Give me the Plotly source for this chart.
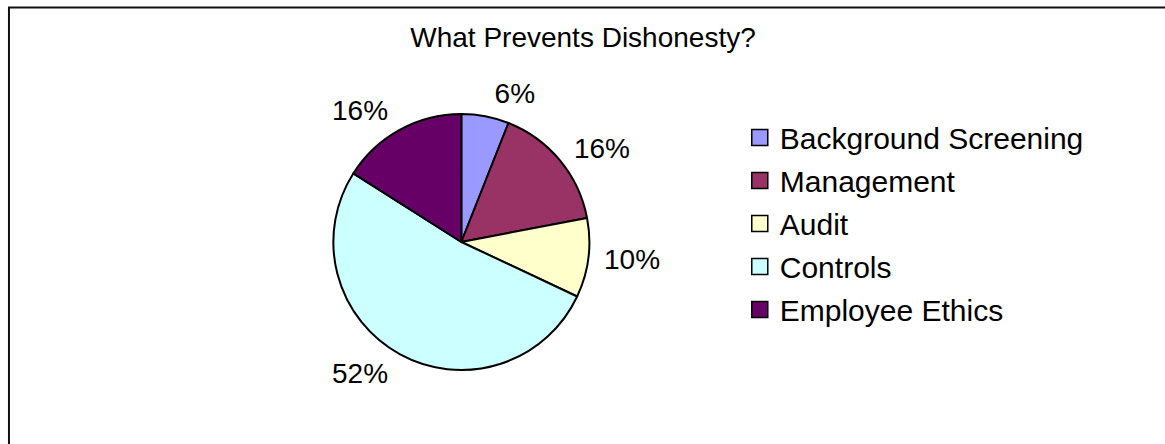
import plotly.graph_objects as go

categories = ["Background Screening", "Management", "Audit", "Controls", "Employee Ethics"]
values = [6, 16, 10, 52, 16]
colors = ["#9999FF", "#993366", "#FFFFCC", "#CCFFFF", "#660066"]
title_text = "What Prevents Dishonesty?"

FONT = "Liberation Sans, Arial, sans-serif"

fig = go.Figure()
# the pie slices
fig.add_trace(go.Pie(
    labels=categories,
    values=values,
    sort=False,
    direction="clockwise",
    rotation=0,
    marker=dict(colors=colors, line=dict(color="#000000", width=2)),
    textinfo="none",
    domain=dict(x=[0.196, 0.596], y=[0.1667, 0.7432]),
    hoverinfo="label+percent",
    showlegend=False,
))
# same data, slightly larger transparent pie carrying the outside percentage labels
fig.add_trace(go.Pie(
    labels=categories,
    values=values,
    sort=False,
    direction="clockwise",
    rotation=0,
    marker=dict(colors=["rgba(0,0,0,0)"] * len(values), line=dict(width=0)),
    texttemplate="%{percent:.0%}",
    textposition="outside",
    textfont=dict(family=FONT, size=28, color="#000000"),
    domain=dict(x=[0.196, 0.596], y=[0.1487, 0.7613]),
    hoverinfo="skip",
    showlegend=False,
))
# legend entries with larger square swatches
for name, col in zip(categories, colors):
    fig.add_trace(go.Scatter(
        x=[None], y=[None], mode="markers", name=name, legendgroup=name,
        marker=dict(symbol="square", size=18, color=col, line=dict(color="#000000", width=1.5)),
        showlegend=True,
    ))

fig.update_layout(
    width=1165,
    height=444,
    margin=dict(l=0, r=0, t=0, b=0),
    paper_bgcolor="#FFFFFF",
    plot_bgcolor="rgba(0,0,0,0)",
    font=dict(family=FONT, color="#000000"),
    xaxis=dict(visible=False),
    yaxis=dict(visible=False),
    title=dict(text=title_text, x=583/1165, xanchor="center", y=1 - 37/444, yanchor="middle",
               font=dict(size=28, color="#000000")),
    showlegend=True,
    legend=dict(x=0.635, xanchor="left", y=0.749, yanchor="top",
                font=dict(size=30, color="#000000"), bgcolor="rgba(0,0,0,0)",
                tracegroupgap=1, itemclick=False, itemsizing="trace"),
    shapes=[dict(type="rect", xref="paper", yref="paper", x0=0.0077, x1=1.05, y0=-0.05, y1=1 - 7.5/444,
                 line=dict(color="#111111", width=2), fillcolor="rgba(0,0,0,0)", layer="below")],
)

fig.write_html("out.html")
